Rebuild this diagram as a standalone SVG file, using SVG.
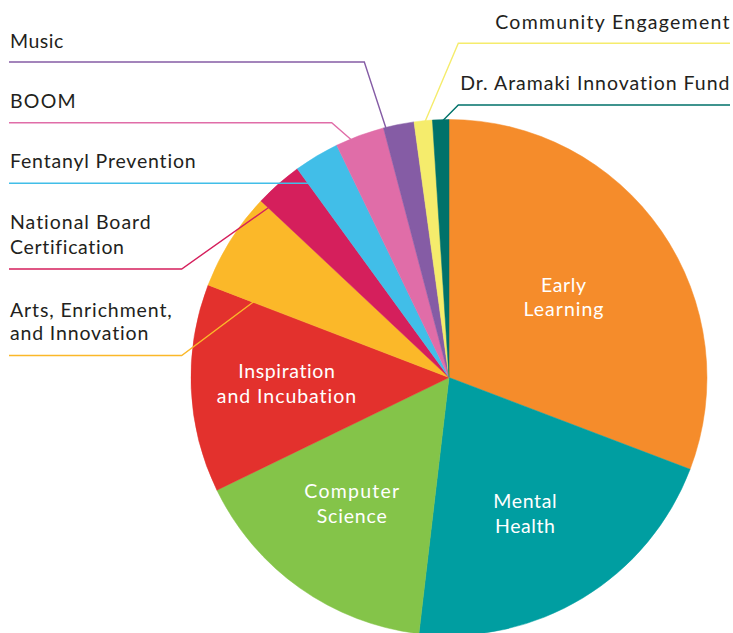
<svg xmlns="http://www.w3.org/2000/svg" width="733" height="633" viewBox="0 0 733 633">
<style>
.lbl{font-family:Lato,"Noto Sans","Liberation Sans",sans-serif;font-size:19.5px;fill:#231F20;font-variant-ligatures:none}
.in{font-family:Lato,"Noto Sans","Liberation Sans",sans-serif;font-size:19.5px;fill:#ffffff;text-anchor:middle;font-variant-ligatures:none}
.ld{fill:none;stroke-width:1.4}
.r{text-anchor:end}
</style>
<rect width="733" height="633" fill="#ffffff"/>
<g id="slices">
<g id="early-learning"><path d="M449 377.5 L449 119.5 A258 258 0 0 1 690.1 469.3 Z" fill="#F58C2B" stroke="#F58C2B" stroke-width="0.5"/>
<text class="in" x="563.5" y="291.7" textLength="45" lengthAdjust="spacing">Early</text><text class="in" x="563.5" y="316" textLength="80" lengthAdjust="spacing">Learning</text></g>
<g id="mental-health"><path d="M449 377.5 L690.1 469.3 A258 258 0 0 1 418.9 633.7 Z" fill="#009EA1" stroke="#009EA1" stroke-width="0.5"/>
<text class="in" x="525" y="508.3" textLength="63.4" lengthAdjust="spacing">Mental</text><text class="in" x="525" y="533.3" textLength="60" lengthAdjust="spacing">Health</text></g>
<g id="computer-science"><path d="M449 377.5 L418.9 633.7 A258 258 0 0 1 216.9 490.2 Z" fill="#84C449" stroke="#84C449" stroke-width="0.5"/>
<text class="in" x="351.7" y="498.3" textLength="94.7" lengthAdjust="spacing">Computer</text><text class="in" x="351.7" y="522.7" textLength="70" lengthAdjust="spacing">Science</text></g>
<g id="inspiration-incubation"><path d="M449 377.5 L216.9 490.2 A258 258 0 0 1 208.1 285 Z" fill="#E3312D" stroke="#E3312D" stroke-width="0.5"/>
<text class="in" x="286.6" y="377.7" textLength="96.7" lengthAdjust="spacing">Inspiration</text><text class="in" x="286.4" y="403.3" textLength="139.3" lengthAdjust="spacing">and Incubation</text></g>
<g id="arts"><path d="M449 377.5 L208.1 285 A258 258 0 0 1 260.9 200.9 Z" fill="#FBB829" stroke="#FBB829" stroke-width="0.5"/></g>
<g id="national-board"><path d="M449 377.5 L260.9 200.9 A258 258 0 0 1 297.3 168.8 Z" fill="#D51F5C" stroke="#D51F5C" stroke-width="0.5"/></g>
<g id="fentanyl"><path d="M449 377.5 L297.3 168.8 A258 258 0 0 1 336.7 145.2 Z" fill="#41BEE8" stroke="#41BEE8" stroke-width="0.5"/></g>
<g id="boom"><path d="M449 377.5 L336.7 145.2 A258 258 0 0 1 383.5 127.9 Z" fill="#E06DA8" stroke="#E06DA8" stroke-width="0.5"/></g>
<g id="music"><path d="M449 377.5 L383.5 127.9 A258 258 0 0 1 414 121.9 Z" fill="#855CA5" stroke="#855CA5" stroke-width="0.5"/></g>
<g id="community"><path d="M449 377.5 L414 121.9 A258 258 0 0 1 432.4 120 Z" fill="#F5EC6C" stroke="#F5EC6C" stroke-width="0.5"/></g>
<g id="aramaki"><path d="M449 377.5 L432.4 120 A258 258 0 0 1 449 119.5 Z" fill="#00726A" stroke="#00726A" stroke-width="0.5"/></g>
</g>
<g id="connectors">
<path class="ld" stroke="#855CA5" d="M9 62 H364.3 L386 128.3"/>
<path class="ld" stroke="#E06DA8" d="M9 122.7 H331.7 L350.7 139.3"/>
<path class="ld" stroke="#41BEE8" d="M9 183.3 H308.3"/>
<path class="ld" stroke="#D51F5C" d="M9 269 H181.7 L268.3 207.7"/>
<path class="ld" stroke="#FBB829" d="M9 355.5 H181.7 L253.3 302"/>
<path class="ld" stroke="#F5EC6C" d="M730 43.3 H458.3 L425 121.7"/>
<path class="ld" stroke="#00726A" d="M730 105 H458.3 L442.7 120.7"/>
</g>
<g id="labels">
<text class="lbl" x="10" y="47.7" textLength="53.3" lengthAdjust="spacing">Music</text>
<text class="lbl" x="10" y="108.3" textLength="65.7" lengthAdjust="spacing">BOOM</text>
<text class="lbl" x="10" y="168.3" textLength="185.7" lengthAdjust="spacing">Fentanyl Prevention</text>
<text class="lbl" x="10" y="229" textLength="140.7" lengthAdjust="spacing">National Board</text>
<text class="lbl" x="10" y="254.3" textLength="114" lengthAdjust="spacing">Certification</text>
<text class="lbl" x="10" y="316.7" textLength="161.7" lengthAdjust="spacing">Arts, Enrichment,</text>
<text class="lbl" x="10" y="340" textLength="138.3" lengthAdjust="spacing">and Innovation</text>
<text class="lbl r" x="729.5" y="29.3" textLength="234.3" lengthAdjust="spacing">Community Engagement</text>
<text class="lbl r" x="729.5" y="90" textLength="269.3" lengthAdjust="spacing">Dr. Aramaki Innovation Fund</text>
</g>
</svg>
